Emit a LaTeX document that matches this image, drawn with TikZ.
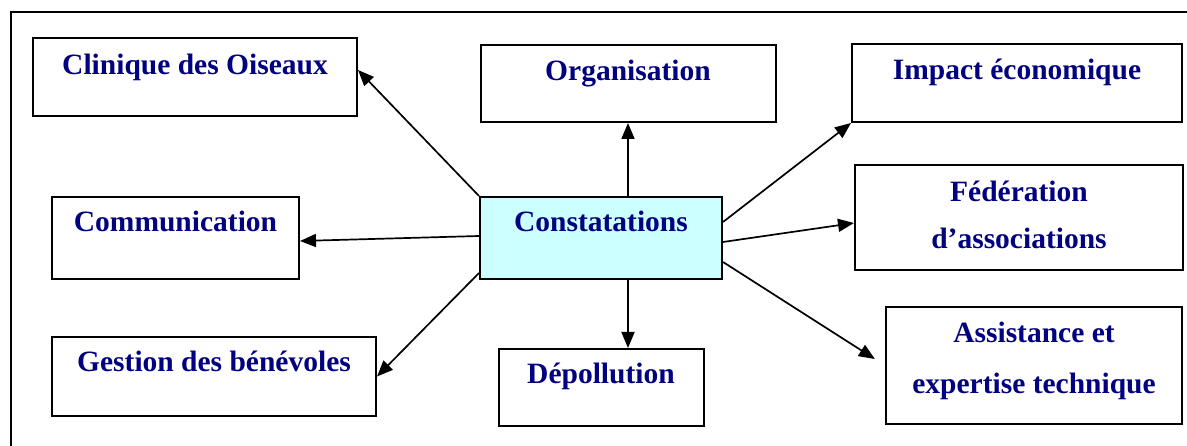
\documentclass[tikz,border=0pt]{standalone}
\usepackage{fontspec}
\setmainfont{Liberation Serif}
\usetikzlibrary{arrows.meta}
\definecolor{txtblue}{RGB}{0,0,128}
\definecolor{paleCyan}{RGB}{204,255,255}
\begin{document}
\begin{tikzpicture}[x=1pt,y=-1pt,
  box/.style={draw=black, line width=2pt, inner sep=0pt, fill=white},
  lbl/.style={anchor=base, inner sep=0pt, text=txtblue, font=\fontsize{29.5}{29.5}\selectfont\bfseries},
  link/.style={line width=1.7pt, -{Triangle[length=16pt,width=13pt]}},
  frame/.style={line width=2.2pt}]
\useasboundingbox (0,0) rectangle (1187,446);

% outer frame (top and left edges)
\draw[frame] (11,446) -- (11,12) -- (1187,12);

% boxes
\node[box, fill=paleCyan, minimum width=242pt, minimum height=82pt] (cons) at (601,238) {};
\node[box, minimum width=324pt, minimum height=78pt] (clin) at (195,77) {};
\node[box, minimum width=295pt, minimum height=77pt] (org) at (628,83.5) {};
\node[box, minimum width=330pt, minimum height=78pt] (imp) at (1017,83) {};
\node[box, minimum width=247pt, minimum height=82pt] (comm) at (175.5,238) {};
\node[box, minimum width=328pt, minimum height=105pt] (fed) at (1019,217.5) {};
\node[box, minimum width=324pt, minimum height=79pt] (gest) at (214,376.5) {};
\node[box, minimum width=205pt, minimum height=77pt] (dep) at (601,387.5) {};
\node[box, minimum width=296pt, minimum height=117pt] (assist) at (1034,365.5) {};

% labels
\node[lbl] (cons-t) at ([yshift=-36pt]cons.north) {Constatations};
\node[lbl] (clin-t) at ([yshift=-38pt]clin.north) {Clinique des Oiseaux};
\node[lbl] (org-t) at ([yshift=-37pt]org.north) {Organisation};
\node[lbl] (imp-t) at ([yshift=-37pt]imp.north) {Impact économique};
\node[lbl] (comm-t) at ([yshift=-36pt]comm.north) {Communication};
\node[lbl] (fed-t1) at ([yshift=-38pt]fed.north) {Fédération};
\node[lbl] (fed-t2) at ([yshift=-85pt]fed.north) {d’associations};
\node[lbl] (gest-t) at ([yshift=-36pt]gest.north) {Gestion des bénévoles};
\node[lbl] (dep-t) at ([yshift=-36pt]dep.north) {Dépollution};
\node[lbl] (assist-t1) at ([yshift=-37pt]assist.north) {Assistance et};
\node[lbl] (assist-t2) at ([yshift=-88pt]assist.north) {expertise technique};

% connectors
\draw[link] (cons.north west) -- ([yshift=7pt]clin.east);
\draw[link] ([yshift=2pt]cons.west) -- ([yshift=-3pt]comm.east);
\draw[link] ([yshift=7pt]cons.south west) -- (gest.east);
\draw[link] ([xshift=27pt]cons.north) -- (org.south);
\draw[link] ([xshift=27pt]cons.south) -- ([xshift=27pt]dep.north);
\draw[link] ([yshift=16pt]cons.east) -- (imp.south west);
\draw[link] ([yshift=-4pt]cons.east) -- ([yshift=-5.5pt]fed.west);
\draw[link, shorten >=12pt] ([yshift=-24pt]cons.east) -- (assist.west);
\end{tikzpicture}
\end{document}
